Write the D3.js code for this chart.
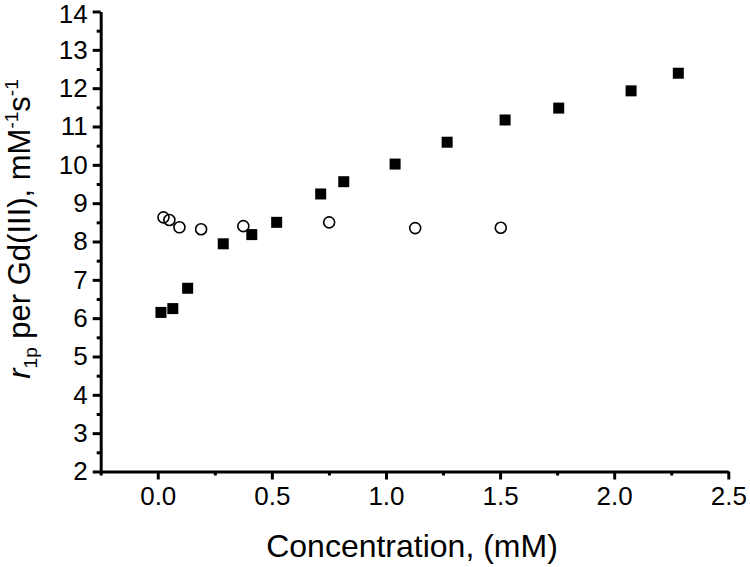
<!DOCTYPE html>
<html><head><meta charset="utf-8">
<script src="https://cdn.jsdelivr.net/npm/d3@7"></script>
<style>body{margin:0;background:#fff}svg{display:block}text,tspan{font-family:"Liberation Sans",Arial,sans-serif;fill:#000}</style>
</head><body>
<svg id="c" width="750" height="567"></svg>
<script>
// data
const squareX = [0.014, 0.066, 0.131, 0.287, 0.412, 0.521, 0.714, 0.815, 1.040, 1.268, 1.522, 1.757, 2.074, 2.281];
const squareY = [6.15, 6.25, 6.78, 7.94, 8.18, 8.50, 9.24, 9.56, 10.02, 10.59, 11.17, 11.48, 11.93, 12.39];
const circleX = [0.025, 0.051, 0.095, 0.190, 0.375, 0.751, 1.128, 1.503];
const circleY = [8.63, 8.56, 8.37, 8.32, 8.40, 8.50, 8.35, 8.36];
const xTicks = [0.0, 0.5, 1.0, 1.5, 2.0, 2.5];
const yTicks = [2, 3, 4, 5, 6, 7, 8, 9, 10, 11, 12, 13, 14];

const FONT = "'Liberation Sans', Arial, sans-serif";
const svg = d3.select("#c");
const x = d3.scaleLinear().domain([-0.25, 2.5]).range([100.7, 728.3]);
const y = d3.scaleLinear().domain([2, 14]).range([471.5, 11.5]);

// minor ticks
const gx = svg.append("g").attr("transform", `translate(0,${y(2)})`);
gx.call(d3.axisBottom(x).tickValues(d3.range(-0.25, 2.51, 0.25).filter(v => !xTicks.some(t => Math.abs(t - v) < 1e-6))).tickSize(4).tickFormat(""));
gx.call(g => g.select(".domain").remove());
const gx2 = svg.append("g").attr("transform", `translate(0,${y(2)})`)
  .call(d3.axisBottom(x).tickValues(xTicks).tickSize(8).tickSizeOuter(0).tickPadding(7).tickFormat(d3.format(".1f")));
gx2.selectAll("text").attr("font-size", 26).attr("font-family", FONT);

const gy = svg.append("g").attr("transform", `translate(${x(-0.25)},0)`);
gy.call(d3.axisLeft(y).tickValues(d3.range(2.5, 14, 1)).tickSize(4).tickFormat(""));
gy.call(g => g.select(".domain").remove());
const gy2 = svg.append("g").attr("transform", `translate(${x(-0.25)},0)`)
  .call(d3.axisLeft(y).tickValues(yTicks).tickSize(8).tickSizeOuter(0).tickPadding(5).tickFormat(d3.format("d")));
gy2.selectAll("text").attr("font-size", 26).attr("font-family", FONT);
gy2.selectAll(".tick").filter(d => d === 14).select("text").attr("dy", "0.42em");

svg.selectAll(".domain, .tick line").attr("stroke", "#000").attr("stroke-width", 3);

// points
const sq = 11;
svg.append("g").selectAll("rect").data(squareX.map((v, i) => [v, squareY[i]])).join("rect")
  .attr("x", d => x(d[0]) - sq / 2).attr("y", d => y(d[1]) - sq / 2)
  .attr("width", sq).attr("height", sq).attr("fill", "#000");
svg.append("g").selectAll("circle").data(circleX.map((v, i) => [v, circleY[i]])).join("circle")
  .attr("cx", d => x(d[0])).attr("cy", d => y(d[1])).attr("r", 5.5)
  .attr("fill", "none").attr("stroke", "#000").attr("stroke-width", 1.6);

// axis titles
svg.append("text").attr("x", 412).attr("y", 557).attr("text-anchor", "middle")
  .attr("font-family", FONT).attr("font-size", 32).text("Concentration, (mM)");

const yt = svg.append("text").attr("transform", "translate(30,229) rotate(-90)")
  .attr("text-anchor", "middle").attr("font-family", FONT).attr("font-size", 31);
yt.append("tspan").attr("font-family", FONT).attr("font-style", "italic").text("r");
yt.append("tspan").attr("font-family", FONT).attr("font-size", 19).attr("dy", 7).text("1p");
yt.append("tspan").attr("font-family", FONT).attr("dy", -7).text(" per Gd(III), mM");
yt.append("tspan").attr("font-family", FONT).attr("font-size", 19).attr("dy", -12).text("-1");
yt.append("tspan").attr("font-family", FONT).attr("dy", 12).text("s");
yt.append("tspan").attr("font-family", FONT).attr("font-size", 19).attr("dy", -12).text("-1");
</script>
</body></html>
